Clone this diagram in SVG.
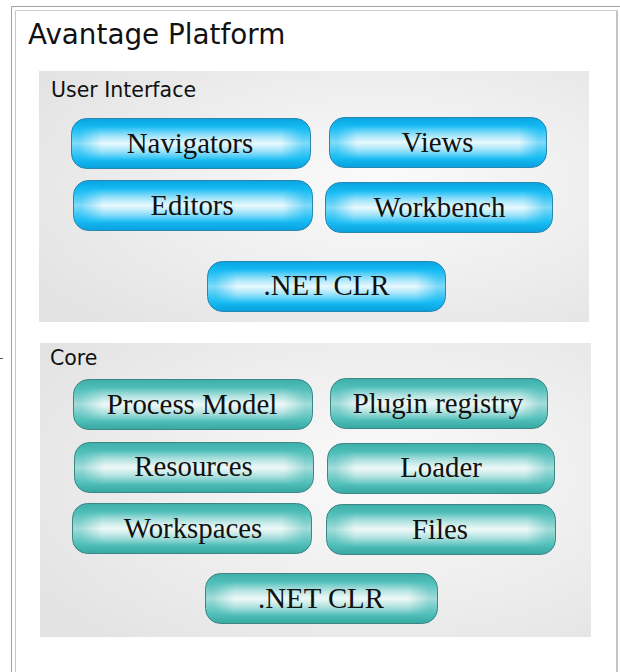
<svg xmlns="http://www.w3.org/2000/svg" width="620" height="672" viewBox="0 0 620 672">
<defs>
<style>
.title{font-family:"DejaVu Sans",sans-serif;font-size:27.8px;fill:#111}
.plabel{font-family:"DejaVu Sans",sans-serif;font-size:20.5px;fill:#111}
.btxt{font-family:"Liberation Serif","Times New Roman",serif;font-size:28.8px;fill:#111;text-anchor:middle}
.blue{fill:url(#blueV);stroke:#2b86b0;stroke-width:1}
.teal{fill:url(#tealV);stroke:#3f8583;stroke-width:1}
.hl{fill:url(#band);mask:url(#fade)}
.panel{fill:url(#panelG)}
</style>
<radialGradient id="panelG" cx="0.62" cy="0.45" r="0.75">
<stop offset="0" stop-color="#fbfbfb"/>
<stop offset="1" stop-color="#e3e3e3"/>
</radialGradient>
<linearGradient id="blueV" x1="0" y1="0" x2="0" y2="1">
<stop offset="0" stop-color="#08a4e2"/>
<stop offset="0.2" stop-color="#17bdf4"/>
<stop offset="0.5" stop-color="#7fdaf8"/>
<stop offset="0.8" stop-color="#17bdf4"/>
<stop offset="1" stop-color="#08a0de"/>
</linearGradient>
<linearGradient id="tealV" x1="0" y1="0" x2="0" y2="1">
<stop offset="0" stop-color="#3dafaa"/>
<stop offset="0.2" stop-color="#52c0bb"/>
<stop offset="0.5" stop-color="#a2dcd9"/>
<stop offset="0.8" stop-color="#52c0bb"/>
<stop offset="1" stop-color="#38a8a3"/>
</linearGradient>
<linearGradient id="band" x1="0" y1="0" x2="0" y2="1">
<stop offset="0" stop-color="#fff" stop-opacity="0"/>
<stop offset="0.5" stop-color="#fff" stop-opacity="0.8"/>
<stop offset="1" stop-color="#fff" stop-opacity="0"/>
</linearGradient>
<linearGradient id="fadeH" x1="0" y1="0" x2="1" y2="0">
<stop offset="0" stop-color="#000"/>
<stop offset="0.1" stop-color="#fff"/>
<stop offset="0.9" stop-color="#fff"/>
<stop offset="1" stop-color="#000"/>
</linearGradient>
<mask id="fade" maskContentUnits="objectBoundingBox">
<rect x="0" y="0" width="1" height="1" fill="url(#fadeH)"/>
</mask>
</defs>

<g id="frame">
<line x1="11.5" y1="6.5" x2="620" y2="6.5" stroke="#a0a0a0"/>
<line x1="11.5" y1="6.5" x2="11.5" y2="672" stroke="#a0a0a0"/>
<line x1="15.5" y1="10.5" x2="617" y2="10.5" stroke="#d0d0d0"/>
<line x1="15.5" y1="10.5" x2="15.5" y2="672" stroke="#c8c8c8"/>
<line x1="617" y1="10.5" x2="617" y2="672" stroke="#c4c4c4" stroke-width="2"/>
<line x1="0" y1="358.5" x2="3" y2="358.5" stroke="#555"/>
<text class="title" x="28" y="44">Avantage Platform</text>
</g>

<g id="ui-panel">
<rect class="panel" x="39" y="71" width="550" height="251"/>
<text class="plabel" x="51" y="97">User Interface</text>
</g>

<g id="core-panel">
<rect class="panel" x="40" y="343" width="551" height="294"/>
<text class="plabel" x="50" y="365">Core</text>
</g>

<g id="connectors"></g>

<g id="navigators">
<rect class="blue" x="71.5" y="118.5" width="239" height="50" rx="15"/>
<rect class="hl" x="79" y="126" width="224" height="35"/>
<text class="btxt" x="190" y="153">Navigators</text>
</g>
<g id="views">
<rect class="blue" x="329.5" y="117.5" width="217" height="50" rx="15"/>
<rect class="hl" x="337" y="125" width="202" height="35"/>
<text class="btxt" x="437.5" y="152">Views</text>
</g>
<g id="editors">
<rect class="blue" x="73.5" y="180.5" width="239" height="50" rx="15"/>
<rect class="hl" x="81" y="188" width="224" height="35"/>
<text class="btxt" x="192" y="215">Editors</text>
</g>
<g id="workbench">
<rect class="blue" x="325.5" y="182.5" width="227" height="50" rx="15"/>
<rect class="hl" x="333" y="190" width="212" height="35"/>
<text class="btxt" x="439.5" y="217">Workbench</text>
</g>
<g id="ui-clr">
<rect class="blue" x="207.5" y="261.5" width="238" height="50" rx="15"/>
<rect class="hl" x="215" y="269" width="223" height="35"/>
<text class="btxt" x="326.5" y="295">.NET CLR</text>
</g>

<g id="process-model">
<rect class="teal" x="73.5" y="379.5" width="239" height="50" rx="15"/>
<rect class="hl" x="81" y="387" width="224" height="35"/>
<text class="btxt" x="192" y="414">Process Model</text>
</g>
<g id="plugin-registry">
<rect class="teal" x="330.5" y="378.5" width="217" height="50" rx="15"/>
<rect class="hl" x="338" y="386" width="202" height="35"/>
<text class="btxt" x="438" y="413">Plugin registry</text>
</g>
<g id="resources">
<rect class="teal" x="74.5" y="442.5" width="239" height="50" rx="15"/>
<rect class="hl" x="82" y="450" width="224" height="35"/>
<text class="btxt" x="193.5" y="476">Resources</text>
</g>
<g id="loader">
<rect class="teal" x="327.5" y="443.5" width="227" height="50" rx="15"/>
<rect class="hl" x="335" y="451" width="212" height="35"/>
<text class="btxt" x="441" y="477">Loader</text>
</g>
<g id="workspaces">
<rect class="teal" x="72.5" y="503.5" width="239" height="50" rx="15"/>
<rect class="hl" x="80" y="511" width="224" height="35"/>
<text class="btxt" x="193" y="538">Workspaces</text>
</g>
<g id="files">
<rect class="teal" x="326.5" y="504.5" width="229" height="50" rx="15"/>
<rect class="hl" x="334" y="512" width="214" height="35"/>
<text class="btxt" x="440" y="539">Files</text>
</g>
<g id="core-clr">
<rect class="teal" x="205.5" y="573.5" width="232" height="50" rx="15"/>
<rect class="hl" x="213" y="581" width="217" height="35"/>
<text class="btxt" x="321" y="608">.NET CLR</text>
</g>
</svg>
